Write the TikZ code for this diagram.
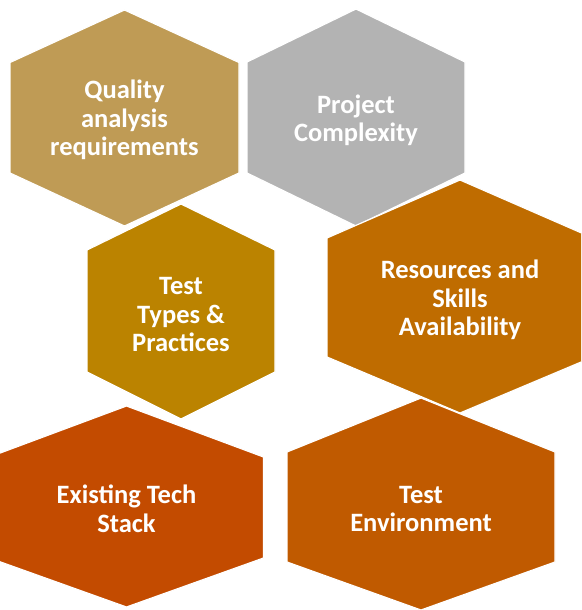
\documentclass[tikz,border=0pt]{standalone}
\usepackage{fontspec}
\setmainfont{Carlito}
\definecolor{cQual}{RGB}{191,155,85}
\definecolor{cProj}{RGB}{179,179,179}
\definecolor{cTest}{RGB}{187,131,0}
\definecolor{cRes}{RGB}{191,108,0}
\definecolor{cStack}{RGB}{195,75,0}
\definecolor{cEnv}{RGB}{192,90,0}
\newcommand{\hexshape}[7]{%
  \fill[#7, draw=white, line width=1.2pt]
    (#1,#3) -- (#1+#2,#4) -- (#1+#2,#5) -- (#1,#6) -- (#1-#2,#5) -- (#1-#2,#4) -- cycle;}
\tikzset{
  lbl/.style={text=white, align=center, inner sep=0pt,
    font=\fontsize{26.5}{28.5}\selectfont\bfseries}
}
\begin{document}
\begin{tikzpicture}[x=1pt,y=-1pt]
\useasboundingbox (0,0) rectangle (581,610);
\begin{scope}
\clip (0,0) rectangle (581,610);
\hexshape{124.5}{114.5}{10}{62.5}{173}{226}{cQual}
\hexshape{356}{109}{9}{62}{173}{226}{cProj}
\hexshape{181}{94}{204}{250}{372}{419}{cTest}
\hexshape{460}{133}{180}{238}{357}{413}{cRes}
\hexshape{126.5}{137}{406}{457}{558}{607}{cStack}
\hexshape{421}{134}{398}{452}{562}{610}{cEnv}
\end{scope}
\node[lbl] (qual) at (124.5,120) {Quality\\analysis\\requirements};
\node[lbl] (proj) at (356,120.5) {Project\\Complexity};
\node[lbl] (test) at (181,315) {Test\\Types \&\\Practices};
\node[lbl] (res) at (460,300) {Resources and\\Skills\\Availability};
\node[lbl] (stack) at (126.5,509) {Existing Tech\\Stack};
\node[lbl] (env) at (421,509) {Test\\Environment};
\end{tikzpicture}
\end{document}
